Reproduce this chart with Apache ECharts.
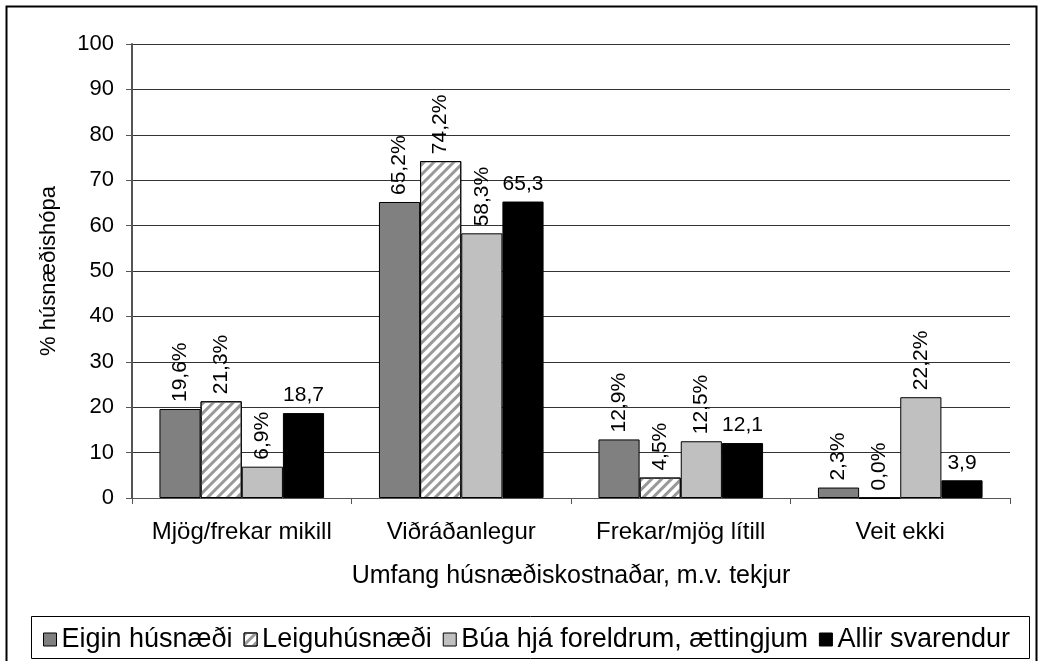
<!DOCTYPE html>
<html>
<head>
<meta charset="utf-8">
<script src="https://cdn.jsdelivr.net/npm/echarts@6/dist/echarts.min.js"></script>
<style>
  html, body { margin: 0; padding: 0; background: #fff; }
  #chart { width: 1043px; height: 661px; }
</style>
</head>
<body>
<div id="chart"></div>
<script>
const categories = ['Mjög/frekar mikill', 'Viðráðanlegur', 'Frekar/mjög lítill', 'Veit ekki'];
const seriesNames = ['Eigin húsnæði', 'Leiguhúsnæði', 'Búa hjá foreldrum, ættingjum', 'Allir svarendur'];
const eiginData = [19.6, 65.2, 12.9, 2.3];
const leiguData = [21.3, 74.2, 4.5, 0.0];
const buaData = [6.9, 58.3, 12.5, 22.2];
const allirData = [18.7, 65.3, 12.1, 3.9];
const yTicks = [0, 10, 20, 30, 40, 50, 60, 70, 80, 90, 100];

const font = '"Liberation Sans", Arial, sans-serif';
const comma = (v) => v.toFixed(1).replace('.', ',');

const rotatedLabel = {
  show: true,
  position: 'top',
  rotate: 90,
  align: 'left',
  verticalAlign: 'middle',
  distance: 7,
  color: '#000',
  fontFamily: font,
  fontSize: 21,
  formatter: (p) => comma(p.value) + '%'
};

const chart = echarts.init(document.getElementById('chart'));

chart.setOption({
  backgroundColor: '#fff',
  animation: false,
  grid: { left: 132, right: 33, top: 44, bottom: 163 },
  graphic: [
    {
      type: 'polyline',
      shape: { points: [[6.5, 700], [6.5, 6.5], [1036.5, 6.5], [1036.5, 700]] },
      style: { stroke: '#000', lineWidth: 2, fill: null }
    },
    {
      type: 'rect',
      shape: { x: 31.5, y: 616.5, width: 998, height: 42 },
      style: { stroke: '#000', lineWidth: 1, fill: '#fff' },
      z: 1
    }
  ],
  legend: {
    data: seriesNames,
    icon: 'rect',
    left: 38,
    top: 621,
    itemWidth: 13,
    itemHeight: 13,
    itemGap: 11,
    textStyle: { fontFamily: font, fontSize: 27, color: '#000' },
    itemStyle: { borderColor: '#000', borderWidth: 1 },
    z: 5
  },
  xAxis: {
    type: 'category',
    data: categories,
    name: 'Umfang húsnæðiskostnaðar, m.v. tekjur',
    nameLocation: 'middle',
    nameGap: 66,
    nameTextStyle: { fontFamily: font, fontSize: 25, color: '#000' },
    axisLine: { lineStyle: { color: '#555', width: 1 } },
    axisTick: { show: true, length: 6, lineStyle: { color: '#555' } },
    axisLabel: { interval: 0, fontFamily: font, fontSize: 24, color: '#000', margin: 22 }
  },
  yAxis: {
    type: 'value',
    min: yTicks[0],
    max: yTicks[yTicks.length - 1],
    interval: 10,
    name: '% húsnæðishópa',
    nameLocation: 'middle',
    nameGap: 72,
    nameTextStyle: { fontFamily: font, fontSize: 22, color: '#000' },
    axisLine: { show: true, lineStyle: { color: '#555', width: 2 } },
    axisTick: { show: true, length: 6, lineStyle: { color: '#555' } },
    axisLabel: { fontFamily: font, fontSize: 22, color: '#000', margin: 18 },
    splitLine: { lineStyle: { color: '#333', width: 1 } }
  },
  series: [
    {
      name: seriesNames[0],
      type: 'bar',
      data: eiginData,
      barGap: '0%',
      barCategoryGap: '25%',
      itemStyle: { color: '#808080', borderColor: '#000', borderWidth: 1 },
      label: rotatedLabel
    },
    {
      name: seriesNames[1],
      type: 'bar',
      data: leiguData,
      itemStyle: {
        color: '#fff',
        borderColor: '#000',
        borderWidth: 1,
        decal: {
          symbol: 'rect',
          color: '#999',
          dashArrayX: [1, 0],
          dashArrayY: [3, 4],
          rotation: -Math.PI / 4
        }
      },
      label: rotatedLabel
    },
    {
      name: seriesNames[2],
      type: 'bar',
      data: buaData,
      itemStyle: { color: '#c0c0c0', borderColor: '#000', borderWidth: 1 },
      label: rotatedLabel
    },
    {
      name: seriesNames[3],
      type: 'bar',
      data: allirData,
      itemStyle: { color: '#000', borderColor: '#000', borderWidth: 1 },
      label: {
        show: true,
        position: 'top',
        distance: 7,
        color: '#000',
        fontFamily: font,
        fontSize: 21,
        formatter: (p) => comma(p.value)
      }
    }
  ]
});
</script>
</body>
</html>
